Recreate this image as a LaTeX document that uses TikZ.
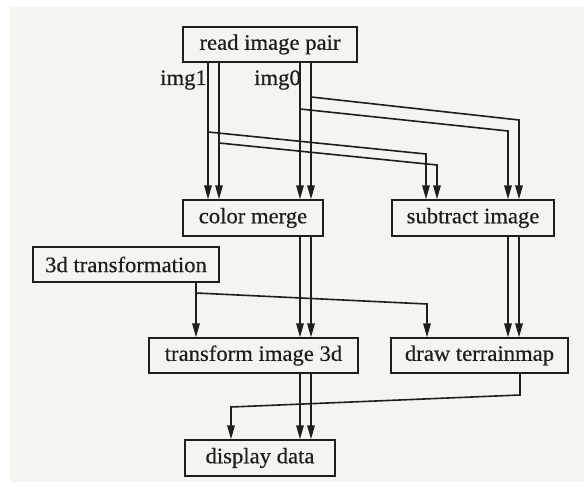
\documentclass[tikz,border=0pt]{standalone}
\usepackage{fontspec}
\setmainfont{Liberation Serif}[FakeStretch=1.03,FakeBold=0.5]
\usetikzlibrary{arrows.meta}
\definecolor{paper}{RGB}{245,245,240}
\definecolor{ink}{RGB}{30,30,30}
\begin{document}
\begin{tikzpicture}[x=1pt,y=-1pt,
  box/.style={draw=ink, line width=1.4pt, fill=paper, inner sep=0pt,
    text=ink, font=\fontsize{22}{24}\selectfont},
  flow/.style={draw=ink, line width=1.6pt,
    -{Triangle[width=7.5pt,length=14pt]}},
  lbl/.style={text=ink, inner sep=0pt, font=\fontsize{22}{24}\selectfont}]
  % sheet
  \useasboundingbox (0,0) rectangle (584,489);
  \fill[white] (0,0) rectangle (584,489);
  \fill[paper] (10,7) rectangle (584,482);

  % process boxes
  \node[box, minimum width=174pt, minimum height=35pt] (read) at (270,44.5) {read image pair};
  \node[box, minimum width=140pt, minimum height=36pt] (cm)   at (253,218)   {color merge};
  \node[box, minimum width=162pt, minimum height=36pt] (sub)  at (473,218)   {subtract image};
  \node[box, minimum width=186pt, minimum height=35pt] (t3)   at (126,264.5) {3d transformation};
  \node[box, minimum width=209pt, minimum height=35pt] (ti)   at (253.5,355.5) {transform image 3d};
  \node[box, minimum width=177pt, minimum height=35pt] (dt)   at (479.5,355.5) {draw terrainmap};
  \node[box, minimum width=150pt, minimum height=36pt] (dd)   at (260,458)   {display data};

  % port labels
  \node[lbl, anchor=base east] (limg1) at (207,85) {img1};
  \node[lbl, anchor=base east] (limg0) at (301,85) {img0};

  % connector columns
  \coordinate (c1) at (208,0);
  \coordinate (c2) at (219,0);
  \coordinate (c3) at (300,0);
  \coordinate (c4) at (311,0);
  \coordinate (c5) at (508,0);
  \coordinate (c6) at (519,0);
  \coordinate (c7) at (196,0);

  % bend points
  \coordinate (b1)  at (208,132); \coordinate (b1r) at (426,154);
  \coordinate (b2)  at (219,143); \coordinate (b2r) at (437,165);
  \coordinate (b3)  at (300,109); \coordinate (b3r) at (508,131);
  \coordinate (b4)  at (311,97);  \coordinate (b4r) at (519,120);
  \coordinate (b5)  at (196,293); \coordinate (b5r) at (427,304);
  \coordinate (b6)  at (520,395); \coordinate (b6l) at (231,407);

  % read image pair -> color merge
  \draw[flow] (read.south -| c1) -- (cm.north -| c1);
  \draw[flow] (read.south -| c2) -- (cm.north -| c2);
  \draw[flow] (read.south -| c3) -- (cm.north -| c3);
  \draw[flow] (read.south -| c4) -- (cm.north -| c4);

  % read image pair -> subtract image
  \draw[flow] (read.south -| b1) -- (b1) -- (b1r) -- (sub.north -| b1r);
  \draw[flow] (read.south -| b2) -- (b2) -- (b2r) -- (sub.north -| b2r);
  \draw[flow] (read.south -| b3) -- (b3) -- (b3r) -- (sub.north -| b3r);
  \draw[flow] (read.south -| b4) -- (b4) -- (b4r) -- (sub.north -| b4r);

  % color merge -> transform image 3d
  \draw[flow] (cm.south -| c3) -- (ti.north -| c3);
  \draw[flow] (cm.south -| c4) -- (ti.north -| c4);

  % subtract image -> draw terrainmap
  \draw[flow] (sub.south -| c5) -- (dt.north -| c5);
  \draw[flow] (sub.south -| c6) -- (dt.north -| c6);

  % 3d transformation -> transform image 3d / draw terrainmap
  \draw[flow] (t3.south -| c7) -- (ti.north -| c7);
  \draw[flow] (t3.south -| b5) -- (b5) -- (b5r) -- (dt.north -| b5r);

  % transform image 3d -> display data
  \draw[flow] (ti.south -| c3) -- (dd.north -| c3);
  \draw[flow] (ti.south -| c4) -- (dd.north -| c4);

  % draw terrainmap -> display data
  \draw[flow] (dt.south -| b6) -- (b6) -- (b6l) -- (dd.north -| b6l);
\end{tikzpicture}
\end{document}
